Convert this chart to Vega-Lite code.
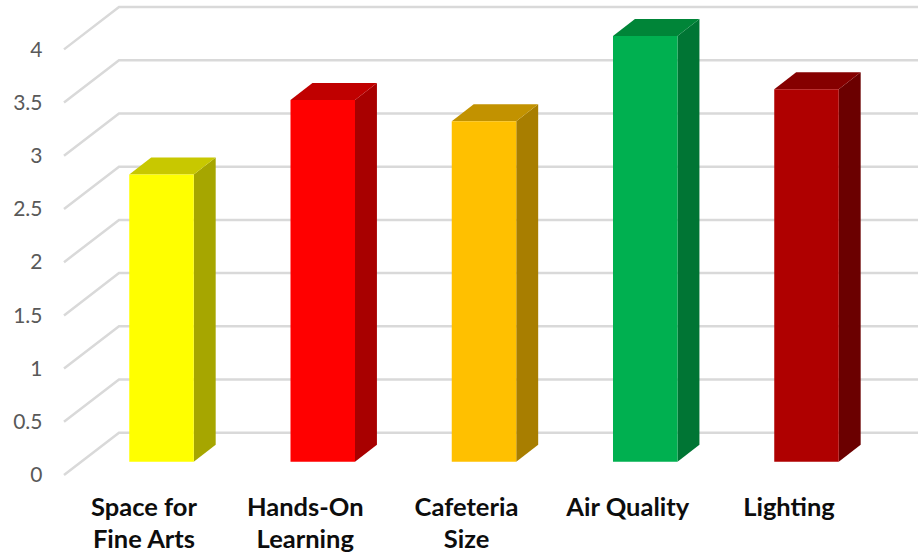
{
  "$schema": "https://vega.github.io/schema/vega-lite/v6.json",
  "width": 918,
  "height": 556,
  "autosize": "none",
  "padding": 0,
  "background": "white",
  "view": {"stroke": null},
  "datasets": {
    "scores": [
      {"category": "Space for Fine Arts", "value": 2.7},
      {"category": "Hands-On Learning", "value": 3.4},
      {"category": "Cafeteria Size", "value": 3.2},
      {"category": "Air Quality", "value": 4},
      {"category": "Lighting", "value": 3.5}
    ],
    "levels": [{"level": 0}, {"level": 0.5}, {"level": 1}, {"level": 1.5}, {"level": 2}, {"level": 2.5}, {"level": 3}, {"level": 3.5}, {"level": 4}]
  },
  "layer": [
    {
      "description": "Gridlines: a diagonal on the floor wall, then flat along the back wall",
      "data": {"name": "levels"},
      "transform": [
        {"calculate": "[0,1,2]", "as": "k"},
        {"flatten": ["k"]},
        {"calculate": "[-0.6047,-0.2636,4.6915][datum.k]", "as": "gx"},
        {"calculate": "datum.level + [-0.125,0.2726,0.2726][datum.k]", "as": "gy"}
      ],
      "mark": {"type": "line", "color": "#d9d9d9", "strokeWidth": 2.5, "strokeJoin": "miter", "clip": false},
      "encoding": {
        "x": {
          "field": "gx", "type": "quantitative",
          "scale": {"domain": [-1.0016, 4.6915], "nice": false, "zero": false},
          "axis": {
            "title": null, "orient": "bottom", "offset": -61, "domain": false, "ticks": false, "grid": false,
            "values": [0, 1, 2, 3, 4],
            "labelExpr": "[['Space for','Fine Arts'],['Hands-On','Learning'],['Cafeteria','Size'],['Air Quality'],['Lighting']][datum.value]",
            "labelOffset": -18, "labelPadding": 0, "labelFont": "Lato", "labelFontWeight": "bold", "labelFontSize": 25.5,
            "labelColor": "#0d0d0d", "labelLineHeight": 32, "labelOverlap": false, "labelFlush": false, "labelBaseline": "top"
          }
        },
        "y": {
          "field": "gy", "type": "quantitative",
          "scale": {"domain": [-0.886, 4.339], "nice": false, "zero": false},
          "axis": {
            "title": null, "orient": "left", "offset": -44, "domain": false, "ticks": false, "grid": false,
            "values": [0, 0.5, 1, 1.5, 2, 2.5, 3, 3.5, 4],
            "labelOffset": 14, "labelPadding": 2, "labelFont": "Lato", "labelFontSize": 21, "labelColor": "#595959",
            "labelOverlap": false, "labelFlush": false, "format": "~g"
          }
        },
        "detail": {"field": "level"},
        "order": {"field": "k"}
      }
    },
    {
      "description": "Right-hand side of each column",
      "data": {"name": "scores"},
      "transform": [
        {"window": [{"op": "row_number", "as": "n"}]},
        {"calculate": "[0,1]", "as": "t"},
        {"flatten": ["t"]},
        {"calculate": "datum.n - 1 + 0.2 + datum.t * 0.136", "as": "sx"},
        {"calculate": "datum.value + datum.t * 0.16", "as": "sy"},
        {"calculate": "datum.t * 0.16", "as": "sy0"}
      ],
      "mark": {"type": "area", "orient": "vertical", "interpolate": "linear"},
      "encoding": {
        "x": {"field": "sx", "type": "quantitative", "scale": {"domain": [-1.0016, 4.6915], "nice": false, "zero": false}},
        "y": {"field": "sy", "type": "quantitative", "scale": {"domain": [-0.886, 4.339], "nice": false, "zero": false}, "stack": null},
        "y2": {"field": "sy0"},
        "color": {
          "field": "category", "type": "nominal", "legend": null,
          "scale": {"domain": ["Space for Fine Arts", "Hands-On Learning", "Cafeteria Size", "Air Quality", "Lighting"], "range": ["#a6a600", "#a80000", "#a87e00", "#007534", "#6b0000"]}
        }
      }
    },
    {
      "description": "Top of each column",
      "data": {"name": "scores"},
      "transform": [
        {"window": [{"op": "row_number", "as": "n"}]},
        {"calculate": "[0,1]", "as": "t"},
        {"flatten": ["t"]},
        {"calculate": "datum.n - 1 - 0.2 + datum.t * 0.136", "as": "tx0"},
        {"calculate": "datum.n - 1 + 0.2 + datum.t * 0.136", "as": "tx1"},
        {"calculate": "datum.value + datum.t * 0.16", "as": "ty"}
      ],
      "mark": {"type": "area", "orient": "horizontal", "interpolate": "linear"},
      "encoding": {
        "x": {"field": "tx0", "type": "quantitative", "scale": {"domain": [-1.0016, 4.6915], "nice": false, "zero": false}, "stack": null},
        "x2": {"field": "tx1"},
        "y": {"field": "ty", "type": "quantitative", "scale": {"domain": [-0.886, 4.339], "nice": false, "zero": false}},
        "color": {
          "field": "category", "type": "nominal", "legend": null,
          "scale": {"domain": ["Space for Fine Arts", "Hands-On Learning", "Cafeteria Size", "Air Quality", "Lighting"], "range": ["#c8c800", "#c00000", "#c29200", "#008538", "#850000"]}
        }
      }
    },
    {
      "description": "Front face of each column",
      "data": {"name": "scores"},
      "transform": [
        {"window": [{"op": "row_number", "as": "n"}]},
        {"calculate": "datum.n - 1 - 0.2", "as": "fx0"},
        {"calculate": "datum.n - 1 + 0.2", "as": "fx1"}
      ],
      "mark": {"type": "bar"},
      "encoding": {
        "x": {"field": "fx0", "type": "quantitative", "scale": {"domain": [-1.0016, 4.6915], "nice": false, "zero": false}},
        "x2": {"field": "fx1"},
        "y": {"field": "value", "type": "quantitative", "scale": {"domain": [-0.886, 4.339], "nice": false, "zero": false}},
        "y2": {"datum": 0},
        "color": {
          "field": "category", "type": "nominal", "legend": null,
          "scale": {"domain": ["Space for Fine Arts", "Hands-On Learning", "Cafeteria Size", "Air Quality", "Lighting"], "range": ["#ffff00", "#ff0000", "#ffc000", "#00b050", "#af0000"]}
        }
      }
    }
  ],
  "resolve": {"scale": {"color": "independent"}}
}
